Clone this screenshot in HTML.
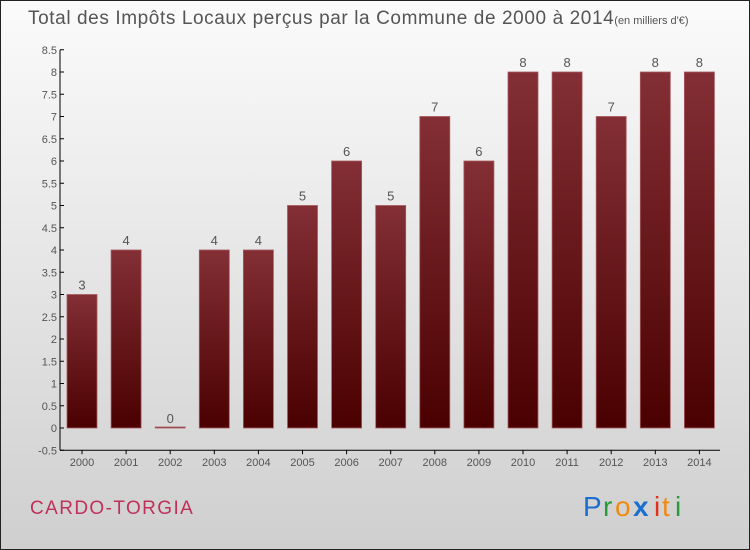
<!DOCTYPE html>
<html><head><meta charset="utf-8"><style>
html,body{margin:0;padding:0}
body{width:750px;height:550px;overflow:hidden;font-family:"Liberation Sans",sans-serif}
#frame{position:absolute;left:0;top:0;width:748px;height:548px;border:1px solid #222;background:linear-gradient(#fbfbfb,#cfcfcf)}
</style></head><body>
<div id="frame">
<svg width="750" height="550" style="position:absolute;left:-1px;top:-1px">
<defs><linearGradient id="bg" x1="0" y1="0" x2="0" y2="1"><stop offset="0" stop-color="#832f35"/><stop offset="1" stop-color="#4a0000"/></linearGradient></defs>
<text x="28" y="24" font-size="19" fill="#555" letter-spacing="0.6">Total des Impôts Locaux perçus par la Commune de 2000 à 2014<tspan font-size="11" letter-spacing="0">(en milliers d'€)</tspan></text>
<g id="axes"></g><g id="bars"></g>
<text x="30" y="514" font-size="19" fill="#c0305a" letter-spacing="1.4">CARDO-TORGIA</text>
<g font-size="28" font-family="'Liberation Sans',sans-serif">
<text x="583" y="516" fill="#1a6fd0">P</text><text x="603" y="516" fill="#2a9a3a">r</text><text x="615" y="516" fill="#f08a10">o</text><text x="633" y="516" fill="#1a6fd0" font-weight="bold">x</text><text x="654" y="516" fill="#e03020">i</text><text x="662" y="516" fill="#f08a10">t</text><text x="675" y="516" fill="#2a9a3a">i</text>
</g>
</svg></div>
<script>
const years=["2000","2001","2002","2003","2004","2005","2006","2007","2008","2009","2010","2011","2012","2013","2014"];
const values=[3,4,0,4,4,5,6,5,7,6,8,8,7,8,8];
const yTicks=[-0.5,0,0.5,1,1.5,2,2.5,3,3.5,4,4.5,5,5.5,6,6.5,7,7.5,8,8.5];
const NS="http://www.w3.org/2000/svg";
function y(v){return 428-v*44.5;}
function x(i){return 82+i*44.1;}
function mk(t,a,p){const e=document.createElementNS(NS,t);for(const k in a)e.setAttribute(k,a[k]);p.appendChild(e);return e;}
const ax=document.getElementById('axes'),bg=document.getElementById('bars');
const yl=mk('line',{x1:60,y1:y(8.5),x2:60,y2:y(-0.5),stroke:'#000','stroke-width':1},ax);


const xl=mk('line',{x1:60,y1:y(-0.5),x2:720,y2:y(-0.5),stroke:'#000','stroke-width':1},ax);


yTicks.forEach(v=>{
 mk('line',{x1:60,y1:y(v),x2:64,y2:y(v),stroke:'#000'},ax);
 const t=mk('text',{x:57,y:y(v)+4,'text-anchor':'end','font-size':11,fill:'#555'},ax);
 t.textContent=String(v);
 
 
});
years.forEach((yr,i)=>{
 mk('line',{x1:x(i),y1:y(-0.5),x2:x(i),y2:y(-0.5)+4,stroke:'#000'},ax);
 const t=mk('text',{x:x(i),y:466,'text-anchor':'middle','font-size':11,fill:'#555'},ax);
 t.textContent=yr;
 
 
 const v=values[i],top=y(v),h=Math.max(y(0)-top,1);
 const r=mk('rect',{x:x(i)-15,y:v>0?top:y(0)-1,width:30,height:h,fill:'url(#bg)',stroke:'#a85a5f','stroke-width':0.8},bg);
 
 
 const l=mk('text',{x:x(i),y:(v>0?top:y(0))-5,'text-anchor':'middle','font-size':13,fill:'#555'},bg);
 l.textContent=String(v);
 
 
});
</script>
</body></html>
